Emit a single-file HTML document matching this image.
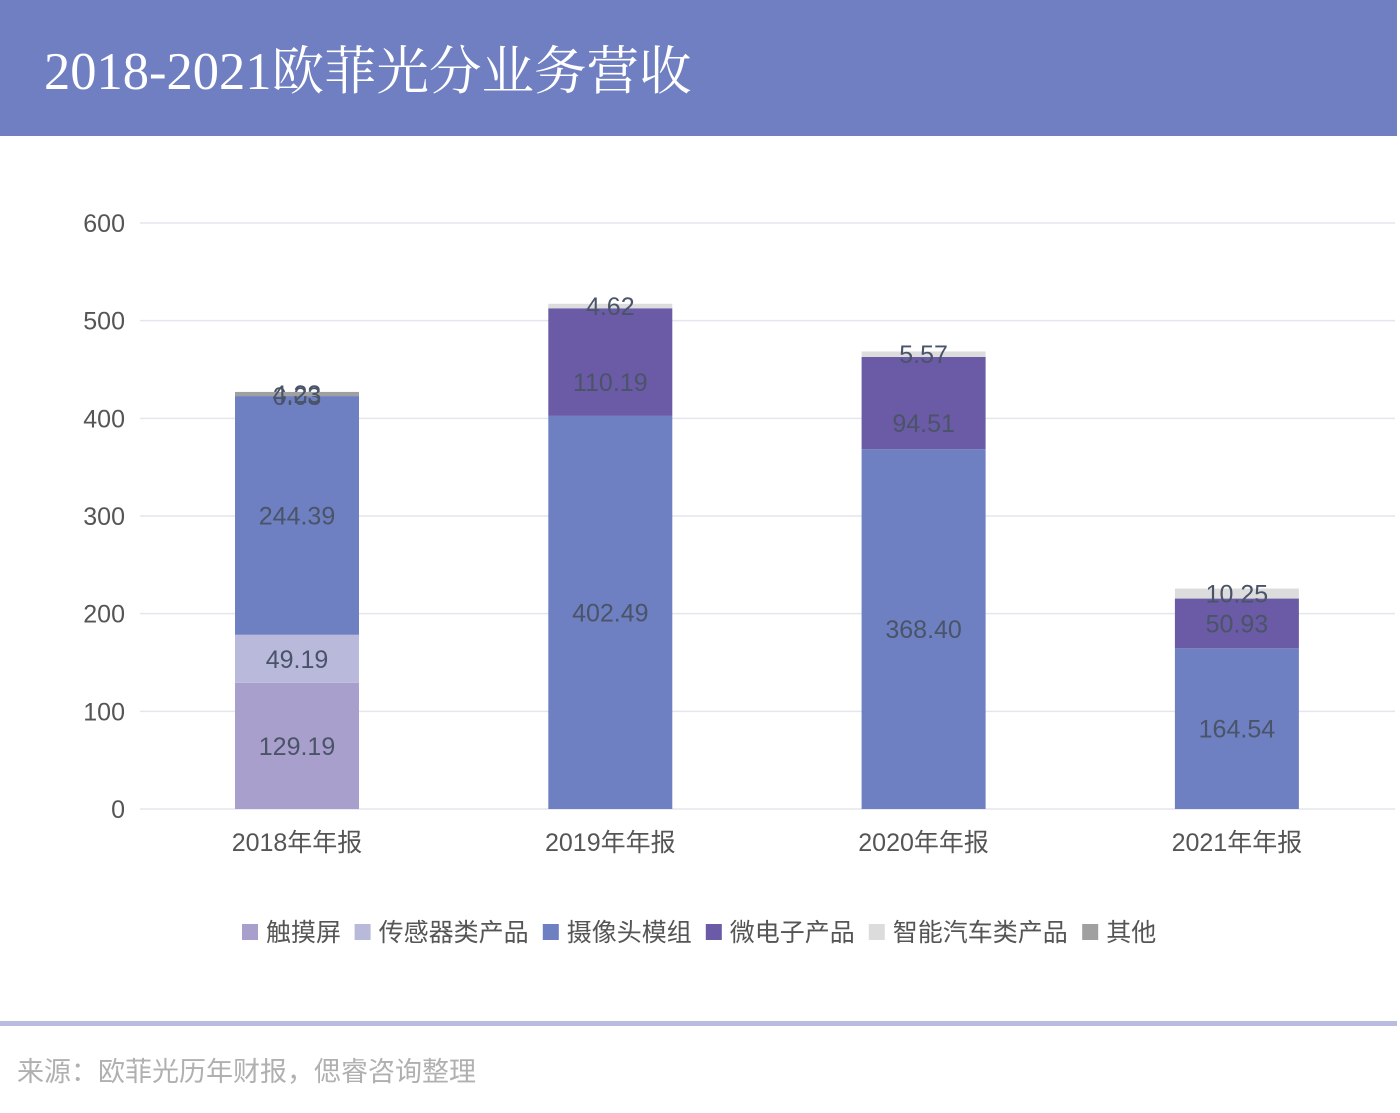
<!DOCTYPE html>
<html><head><meta charset="utf-8">
<style>
html,body{margin:0;padding:0;background:#fff;}
body{width:1400px;height:1113px;position:relative;overflow:hidden;font-family:"Liberation Sans","Noto Sans CJK SC",sans-serif;}
#header{position:absolute;left:0;top:0;width:1397px;height:136px;background:#6f7fc1;}
#title{position:absolute;left:44px;top:42px;font-family:"Liberation Serif","Noto Serif CJK SC",serif;font-size:52.5px;line-height:60px;color:#fff;white-space:nowrap;}
#rule{position:absolute;left:0;top:1021px;width:1397px;height:5px;background:#b8bcdf;}
#source{position:absolute;left:17px;top:1050px;font-size:27px;color:#b0b0b0;white-space:nowrap;}
svg{position:absolute;left:0;top:0;}
</style></head><body>
<div id="header"><div id="title">2018-2021欧菲光分业务营收</div></div>
<svg id="chart" width="1400" height="1113"></svg>
<div id="rule"></div>
<div id="source">来源：欧菲光历年财报，偲睿咨询整理</div>
<script>
const categories = ["2018年年报","2019年年报","2020年年报","2021年年报"];
const seriesNames = ["触摸屏","传感器类产品","摄像头模组","微电子产品","智能汽车类产品","其他"];
const touch = [129.19,0,0,0];
const sensor = [49.19,0,0,0];
const camera = [244.39,402.49,368.40,164.54];
const micro = [0.03,110.19,94.51,50.93];
const smartCar = [0,4.62,5.57,10.25];
const other = [4.23,0,0,0];
const yTicks = [0,100,200,300,400,500,600];
const series = [touch,sensor,camera,micro,smartCar,other];
const colors = ["#a99fcc","#b9b9dc","#6e7fc2","#6b5aa6","#dcdcdc","#a0a0a0"];
const NS="http://www.w3.org/2000/svg";
const svg=document.getElementById('chart');
const y0=809, yTop=223, x0=140, x1=1395;
const y=v=>y0-(v/600)*(y0-yTop);
const slot=313.3;
const xc=i=>297+slot*i;
const bw=124;
function mk(t,a){const e=document.createElementNS(NS,t);for(const k in a)e.setAttribute(k,a[k]);svg.appendChild(e);return e;}
yTicks.forEach(t=>{
  const l=mk('line',{x1:x0,x2:x1,y1:y(t),y2:y(t),stroke:'#e3e6ee','stroke-width':1.5});
  
  
  const tx=mk('text',{x:125,y:y(t)+9,'text-anchor':'end','font-size':25,fill:'#555'});
  tx.textContent=t;
  
  
});
categories.forEach((c,i)=>{
  let acc=0;
  series.forEach((s,j)=>{
    const v=s[i]; if(!v) return;
    const r=mk('rect',{x:xc(i)-bw/2,y:y(acc+v),width:bw,height:y(acc)-y(acc+v),fill:colors[j]});
    
    
    let mid=(y(acc)+y(acc+v))/2;
    if(j===3 && v>80) mid+=20;
    const t=mk('text',{x:xc(i),y:mid+9,'text-anchor':'middle','font-size':25,fill:'#4a5468'});
    t.textContent=v.toFixed(2);
    
    
    acc+=v;
  });
  const ct=mk('text',{x:xc(i),y:851,'text-anchor':'middle','font-size':25,fill:'#555'});
  ct.textContent=c;
  
  
});
let lx=242;
seriesNames.forEach((n,j)=>{
  const g=document.createElementNS(NS,'g');svg.appendChild(g);
  
  
  const r=document.createElementNS(NS,'rect');
  r.setAttribute('x',lx);r.setAttribute('y',924);r.setAttribute('width',16);r.setAttribute('height',16);r.setAttribute('fill',colors[j]);
  g.appendChild(r);
  const t=document.createElementNS(NS,'text');
  t.setAttribute('x',lx+24);t.setAttribute('y',941);t.setAttribute('font-size',25);t.setAttribute('fill','#555');
  t.textContent=n;g.appendChild(t);
  lx+=24+n.length*25.2+13;
});
</script>
</body></html>
